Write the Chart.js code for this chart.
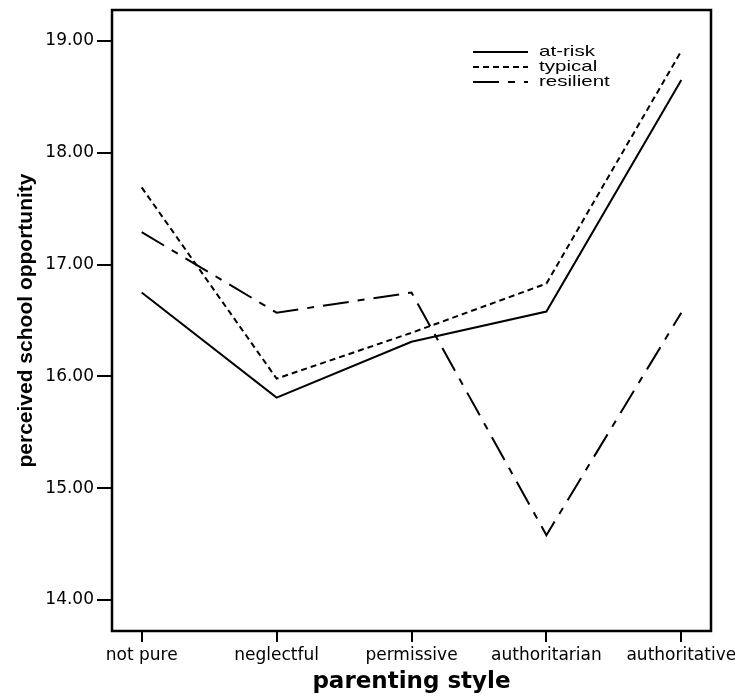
<!DOCTYPE html>
<html>
<head>
<meta charset="utf-8">
<script src="https://cdn.jsdelivr.net/npm/chart.js@4/dist/chart.umd.min.js"></script>
<style>
  html, body { margin: 0; padding: 0; background: #fff; }
</style>
</head>
<body>
<canvas id="chart" width="735" height="696"></canvas>
<script>
  // parenting style categories and group means
  let styles = ["not pure", "neglectful", "permissive", "authoritarian", "authoritative"];
  let atRisk = [16.75, 15.81, 16.31, 16.58, 18.65];
  let typical = [17.69, 15.98, 16.39, 16.83, 18.91];
  let resilient = [17.29, 16.57, 16.75, 14.58, 16.57];
  let yTicks = [14, 15, 16, 17, 18, 19];

  function points(values) {
    return values.map((v, i) => ({ x: i, y: v }));
  }

  // box round the plot area
  let boxPlugin = {
    id: "box",
    afterDraw(chart) {
      let a = chart.chartArea;
      let ctx = chart.ctx;
      ctx.save();
      ctx.strokeStyle = "#000";
      ctx.lineWidth = 2.5;
      ctx.strokeRect(a.left, a.top, a.right - a.left, a.bottom - a.top);
      ctx.restore();
    },
  };

  // line legend in the upper right corner
  let legendPlugin = {
    id: "lineLegend",
    afterDraw(chart) {
      let ctx = chart.ctx;
      ctx.save();
      ctx.textBaseline = "middle";
      ctx.fillStyle = "#000";
      chart.data.datasets.forEach((ds, i) => {
        let y = 52 + i * 15;
        ctx.strokeStyle = "#000";
        ctx.lineWidth = 2;
        ctx.setLineDash(ds.borderDash || []);
        ctx.beginPath();
        ctx.moveTo(473, y);
        ctx.lineTo(528, y);
        ctx.stroke();
        ctx.setLineDash([]);
        // text in the reference is drawn a little wide
        ctx.save();
        ctx.translate(539, y);
        ctx.scale(1.37, 1);
        ctx.font = "15px 'Liberation Sans'";
        ctx.fillText(ds.label, 0, 0);
        ctx.restore();
      });
      ctx.restore();
    },
  };

  let lineStyle = {
    borderColor: "#000",
    borderWidth: 2,
    pointRadius: 0,
    fill: false,
    tension: 0,
  };

  new Chart(document.getElementById("chart"), {
    type: "line",
    data: {
      datasets: [
        { label: "at-risk", data: points(atRisk), ...lineStyle },
        { label: "typical", data: points(typical), borderDash: [6, 4], ...lineStyle },
        { label: "resilient", data: points(resilient), borderDash: [26, 9, 7, 9], ...lineStyle },
      ],
    },
    options: {
      responsive: false,
      animation: false,
      layout: { padding: { top: 10, right: 24, left: 0, bottom: 0 } },
      plugins: {
        legend: { display: false },
        tooltip: { enabled: false },
      },
      scales: {
        x: {
          type: "linear",
          min: -0.22,
          max: 4.22,
          afterFit: scale => {
            scale.height = 65;
            scale.paddingLeft = 0;
            scale.paddingRight = 0;
          },
          afterBuildTicks: scale => {
            scale.ticks = styles.map((s, i) => ({ value: i }));
          },
          ticks: {
            color: "#000",
            font: { family: "DejaVu Sans", size: 17 },
            padding: 3,
            autoSkip: false,
            maxRotation: 0,
            callback: v => styles[v],
          },
          grid: { drawOnChartArea: false, color: "#000", lineWidth: 2, tickLength: 11 },
          border: { display: false },
          title: {
            display: true,
            text: "parenting style",
            color: "#000",
            font: { family: "DejaVu Sans", size: 23, weight: "bold" },
            padding: 0,
          },
        },
        y: {
          min: 13.723,
          max: 19.277,
          afterFit: scale => {
            scale.width = 112;
            scale.paddingTop = 0;
            scale.paddingBottom = 0;
          },
          afterBuildTicks: scale => {
            scale.ticks = yTicks.map(v => ({ value: v }));
          },
          ticks: {
            color: "#000",
            font: { family: "DejaVu Sans", size: 17 },
            padding: 3,
            callback: v => v.toFixed(2),
          },
          grid: { drawOnChartArea: false, color: "#000", lineWidth: 2, tickLength: 15 },
          border: { display: false },
          title: {
            display: true,
            text: "perceived school opportunity",
            color: "#000",
            font: { family: "Liberation Sans", size: 21, weight: "bold" },
            padding: { top: 14, bottom: 0 },
          },
        },
      },
    },
    plugins: [boxPlugin, legendPlugin],
  });
</script>
</body>
</html>
